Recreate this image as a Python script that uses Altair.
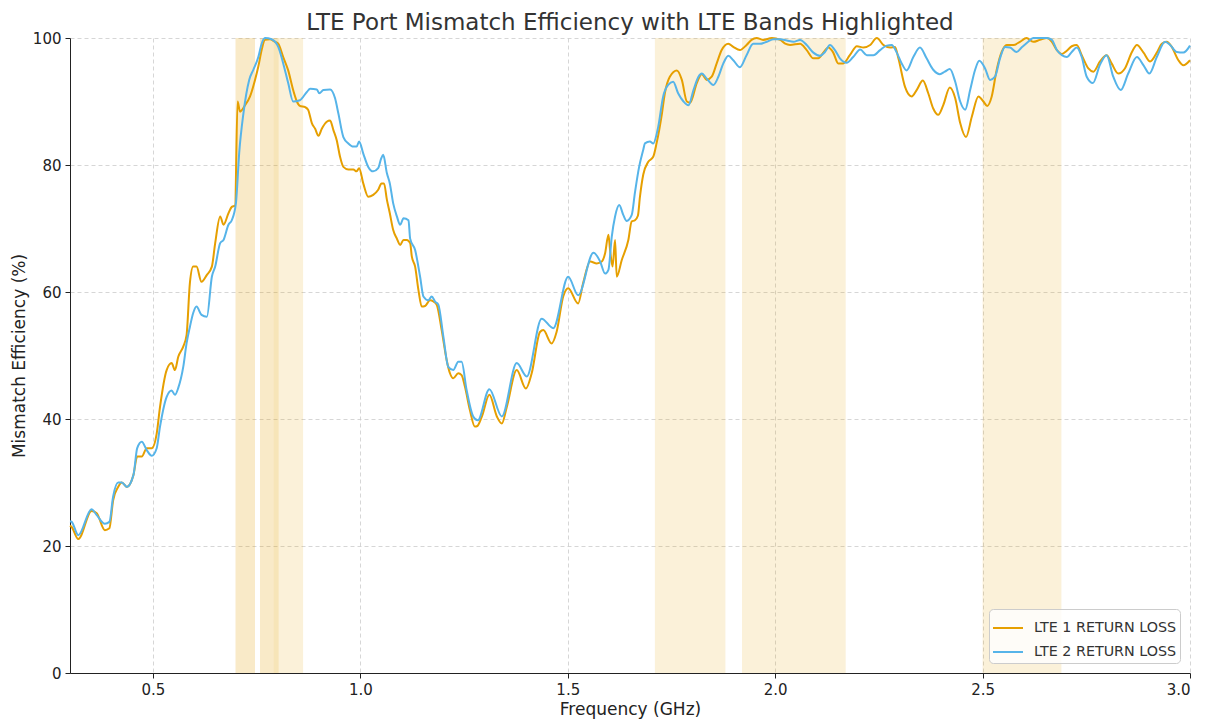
import altair as alt
import pandas as pd

# ---- data ----
freq_lte1 = [0.300, 0.304, 0.320, 0.352, 0.364, 0.384, 0.395, 0.404, 0.416, 0.425, 0.437, 0.453, 0.462, 0.473,
             0.485, 0.497, 0.509, 0.517, 0.533, 0.545, 0.553, 0.561, 0.573, 0.581, 0.589, 0.597, 0.605, 0.617,
             0.630, 0.642, 0.650, 0.662, 0.670, 0.682, 0.690, 0.698, 0.704, 0.710, 0.722, 0.734, 0.746, 0.754,
             0.762, 0.770, 0.782, 0.794, 0.802, 0.814, 0.826, 0.838, 0.847, 0.854, 0.867, 0.874, 0.883, 0.891,
             0.899, 0.907, 0.919, 0.927, 0.935, 0.943, 0.951, 0.959, 0.971, 0.983, 0.991, 0.997, 1.007, 1.019,
             1.031, 1.043, 1.051, 1.057, 1.064, 1.071, 1.079, 1.088, 1.096, 1.104, 1.112, 1.120, 1.124, 1.132,
             1.140, 1.148, 1.156, 1.168, 1.176, 1.184, 1.196, 1.208, 1.216, 1.224, 1.236, 1.244, 1.252, 1.264,
             1.276, 1.282, 1.293, 1.311, 1.329, 1.341, 1.353, 1.377, 1.399, 1.413, 1.433, 1.441, 1.461, 1.473,
             1.489, 1.501, 1.525, 1.537, 1.554, 1.570, 1.582, 1.590, 1.598, 1.602, 1.608, 1.614, 1.618, 1.630,
             1.646, 1.654, 1.662, 1.669, 1.674, 1.682, 1.694, 1.706, 1.714, 1.727, 1.734, 1.746, 1.763, 1.775,
             1.787, 1.795, 1.811, 1.823, 1.835, 1.847, 1.859, 1.871, 1.887, 1.899, 1.915, 1.931, 1.943, 1.955,
             1.971, 1.992, 2.012, 2.024, 2.036, 2.060, 2.076, 2.092, 2.104, 2.116, 2.128, 2.140, 2.152, 2.164,
             2.180, 2.197, 2.213, 2.229, 2.245, 2.261, 2.277, 2.289, 2.297, 2.313, 2.329, 2.341, 2.356, 2.369,
             2.381, 2.393, 2.405, 2.421, 2.434, 2.446, 2.460, 2.474, 2.490, 2.502, 2.511, 2.522, 2.534, 2.546,
             2.558, 2.574, 2.590, 2.606, 2.622, 2.638, 2.655, 2.667, 2.679, 2.691, 2.703, 2.715, 2.727, 2.739,
             2.755, 2.767, 2.783, 2.799, 2.811, 2.827, 2.843, 2.860, 2.872, 2.888, 2.904, 2.920, 2.932, 2.944,
             2.956, 2.972, 2.984, 3.000]
eff_lte1 = [23.2, 23.0, 21.1, 25.5, 25.2, 22.5, 22.8, 27.2, 29.3, 30.0, 29.3, 31.2, 34.1, 34.1,
            35.4, 35.4, 37.7, 41.9, 47.7, 48.8, 47.7, 49.8, 51.4, 53.2, 61.4, 64.0, 64.0, 61.6,
            62.7, 64.0, 67.7, 71.9, 70.6, 72.4, 73.4, 73.6, 90.0, 88.4, 89.4, 90.8, 93.4, 95.5,
            98.1, 99.7, 99.8, 99.4, 99.1, 97.0, 94.9, 91.8, 90.0, 89.3, 89.1, 88.7, 86.6, 85.7,
            84.6, 85.7, 86.8, 87.0, 85.5, 83.9, 81.3, 79.7, 79.3, 79.3, 79.0, 79.5, 77.1, 75.0,
            75.3, 76.1, 77.1, 77.1, 74.5, 72.4, 69.8, 68.4, 67.4, 68.2, 68.2, 67.7, 65.6, 64.0,
            60.3, 57.7, 57.8, 58.7, 58.5, 58.0, 54.0, 49.3, 47.2, 46.4, 47.2, 46.9, 45.1, 41.4,
            38.8, 38.9, 40.4, 43.8, 40.4, 39.3, 41.9, 47.7, 44.8, 47.2, 53.7, 54.0, 51.9, 53.7,
            59.3, 60.6, 58.2, 61.4, 64.8, 64.5, 64.8, 66.1, 69.0, 66.6, 64.0, 68.2, 62.4, 65.0,
            68.2, 71.1, 71.3, 72.0, 75.0, 78.5, 80.5, 81.3, 83.4, 88.1, 91.3, 93.9, 94.9, 93.4,
            90.0, 89.8, 92.9, 94.3, 93.4, 93.9, 96.0, 98.1, 99.1, 98.6, 98.1, 98.9, 99.7, 100.0,
            99.7, 100.0, 99.7, 99.1, 98.9, 99.1, 98.1, 96.8, 96.8, 97.7, 98.5, 97.7, 96.0, 96.0,
            97.3, 98.7, 98.5, 98.9, 100.0, 98.9, 98.5, 98.6, 96.8, 92.3, 90.8, 91.8, 93.3, 91.3,
            88.9, 87.9, 89.4, 92.2, 90.5, 86.6, 84.4, 87.6, 90.8, 90.0, 89.3, 90.8, 95.0, 97.8,
            98.9, 98.9, 99.4, 100.0, 99.4, 99.7, 100.0, 99.4, 98.1, 97.5, 98.0, 98.7, 98.9, 97.3,
            95.2, 94.7, 96.3, 97.3, 96.0, 94.4, 95.2, 97.8, 98.9, 97.7, 96.3, 97.7, 99.1, 99.4,
            98.6, 96.5, 95.7, 96.5]

freq_lte2 = [0.300, 0.304, 0.320, 0.352, 0.364, 0.384, 0.395, 0.404, 0.416, 0.425, 0.437, 0.453, 0.462, 0.473,
             0.485, 0.497, 0.509, 0.517, 0.533, 0.545, 0.553, 0.561, 0.573, 0.581, 0.589, 0.597, 0.605, 0.617,
             0.630, 0.642, 0.650, 0.662, 0.670, 0.682, 0.690, 0.700, 0.708, 0.718, 0.732, 0.742, 0.754, 0.762,
             0.770, 0.786, 0.802, 0.814, 0.826, 0.838, 0.854, 0.871, 0.879, 0.895, 0.901, 0.911, 0.927, 0.939,
             0.947, 0.959, 0.971, 0.983, 0.991, 0.997, 1.007, 1.019, 1.031, 1.043, 1.050, 1.055, 1.064, 1.071,
             1.079, 1.088, 1.096, 1.104, 1.116, 1.120, 1.132, 1.144, 1.152, 1.164, 1.172, 1.180, 1.188, 1.200,
             1.212, 1.224, 1.236, 1.244, 1.256, 1.272, 1.283, 1.311, 1.341, 1.377, 1.401, 1.437, 1.465, 1.501,
             1.525, 1.562, 1.578, 1.590, 1.598, 1.606, 1.614, 1.624, 1.634, 1.642, 1.654, 1.662, 1.672, 1.682,
             1.686, 1.698, 1.706, 1.718, 1.730, 1.742, 1.754, 1.766, 1.779, 1.791, 1.803, 1.815, 1.823, 1.835,
             1.851, 1.863, 1.875, 1.887, 1.899, 1.915, 1.931, 1.947, 1.963, 1.980, 1.996, 2.012, 2.028, 2.044,
             2.060, 2.076, 2.092, 2.108, 2.120, 2.132, 2.144, 2.156, 2.172, 2.188, 2.205, 2.221, 2.237, 2.253,
             2.269, 2.281, 2.293, 2.305, 2.317, 2.333, 2.349, 2.365, 2.381, 2.397, 2.409, 2.421, 2.434, 2.446,
             2.458, 2.470, 2.482, 2.492, 2.506, 2.518, 2.530, 2.542, 2.554, 2.566, 2.582, 2.594, 2.610, 2.622,
             2.655, 2.667, 2.679, 2.691, 2.703, 2.715, 2.727, 2.739, 2.751, 2.766, 2.783, 2.799, 2.815, 2.833,
             2.851, 2.872, 2.888, 2.902, 2.920, 2.940, 2.952, 2.968, 2.984, 3.000]
eff_lte2 = [23.9, 23.8, 21.7, 25.8, 24.9, 23.5, 23.8, 27.8, 30.0, 30.0, 29.3, 31.2, 35.4, 36.4,
            35.1, 34.2, 35.4, 38.8, 43.5, 44.5, 43.8, 44.9, 48.2, 51.9, 54.5, 56.7, 57.7, 56.4,
            56.1, 62.4, 64.0, 67.7, 68.2, 70.6, 71.3, 74.0, 82.0, 88.1, 93.4, 95.0, 97.0, 99.1,
            100.0, 99.8, 98.6, 96.0, 92.9, 90.0, 90.2, 91.5, 92.0, 91.9, 91.3, 91.8, 91.9, 90.5,
            88.1, 84.4, 83.4, 82.9, 82.9, 83.7, 81.8, 79.7, 79.0, 79.5, 81.0, 81.6, 78.7, 77.1,
            74.0, 71.9, 70.6, 71.6, 71.3, 68.4, 66.6, 62.4, 59.3, 58.7, 59.3, 58.5, 58.0, 53.0,
            48.2, 47.7, 49.0, 49.0, 44.6, 40.4, 39.8, 44.7, 40.4, 48.8, 46.7, 55.8, 54.3, 62.4,
            59.5, 66.2, 64.8, 62.9, 63.5, 68.7, 71.9, 73.7, 72.1, 71.2, 72.1, 75.7, 79.7, 82.4,
            83.4, 83.7, 83.4, 86.0, 90.8, 92.6, 93.1, 91.3, 90.0, 89.4, 91.8, 93.9, 94.4, 93.6,
            92.6, 93.9, 96.0, 97.2, 96.5, 95.4, 97.3, 99.1, 99.1, 99.4, 99.8, 99.8, 99.6, 99.4,
            99.7, 98.9, 97.7, 97.2, 97.8, 98.9, 98.1, 96.8, 96.1, 97.0, 98.2, 97.3, 97.3, 98.1,
            98.8, 98.9, 97.7, 96.0, 94.9, 97.0, 98.5, 96.8, 95.0, 94.3, 94.7, 95.1, 93.1, 90.0,
            88.7, 91.8, 95.0, 96.4, 95.2, 93.4, 93.9, 96.8, 98.6, 98.5, 97.8, 98.5, 99.4, 100.0,
            100.0, 99.7, 98.1, 97.3, 97.0, 97.8, 98.5, 97.0, 93.9, 92.9, 95.8, 97.3, 93.9, 91.8,
            94.4, 97.0, 95.7, 94.4, 97.0, 99.4, 98.9, 97.8, 97.7, 98.8]

# highlighted LTE bands (GHz)
band_start = [0.699, 0.758, 0.791, 1.710, 1.920, 2.500]
band_end = [0.746, 0.803, 0.862, 1.880, 2.170, 2.690]
# narrower sub-bands that overlap the low bands (shaded a little deeper)
subband_start = [0.699, 0.758]
subband_end = [0.746, 0.791]

series_names = ["LTE 1 RETURN LOSS", "LTE 2 RETURN LOSS"]
series_colors = ["#E69F00", "#56B4E9"]

x_ticks = [0.5, 1.0, 1.5, 2.0, 2.5, 3.0]
y_ticks = [0, 20, 40, 60, 80, 100]

# ---- tables ----
lines_df = pd.concat([
    pd.DataFrame({"freq": freq_lte1, "eff": eff_lte1, "series": series_names[0], "order": 0}),
    pd.DataFrame({"freq": freq_lte2, "eff": eff_lte2, "series": series_names[1], "order": 1}),
], ignore_index=True)
bands_df = pd.DataFrame({"start": band_start, "end": band_end})
subbands_df = pd.DataFrame({"start": subband_start, "end": subband_end})

FONT = "DejaVu Sans"

xscale = alt.Scale(domain=[0.3, 3.0], nice=False, zero=False)
yscale = alt.Scale(domain=[0, 100], nice=False)

bands = alt.Chart(bands_df).mark_rect(color="#E69F00", opacity=0.15).encode(
    x=alt.X("start:Q", scale=xscale),
    x2="end:Q",
)
subbands = alt.Chart(subbands_df).mark_rect(color="#E69F00", opacity=0.08).encode(
    x=alt.X("start:Q", scale=xscale),
    x2="end:Q",
)

lines = alt.Chart(lines_df).mark_line(strokeWidth=2, interpolate="monotone").encode(
    x=alt.X("freq:Q", scale=xscale,
            axis=alt.Axis(values=x_ticks, format=".1f", title="Frequency (GHz)")),
    y=alt.Y("eff:Q", scale=yscale,
            axis=alt.Axis(values=y_ticks, title="Mismatch Efficiency (%)")),
    color=alt.Color("series:N",
                    scale=alt.Scale(domain=series_names, range=series_colors),
                    legend=alt.Legend(title=None, orient="bottom-right", offset=10,
                                      symbolType="stroke", symbolSize=900, symbolStrokeWidth=2,
                                      labelFontSize=14.3, labelFont=FONT, labelColor="#333333",
                                      fillColor="rgba(255,255,255,0.8)", strokeColor="#cccccc",
                                      cornerRadius=4, padding=3, rowPadding=0, labelOffset=10)),
    order="order:Q",
)

chart = alt.layer(bands, subbands, lines).properties(
    width=1120,
    height=635,
    title=alt.TitleParams("LTE Port Mismatch Efficiency with LTE Bands Highlighted",
                          fontSize=23, font=FONT, color="#333333", fontWeight="normal",
                          anchor="middle", offset=-4),
    autosize=alt.AutoSizeParams(type="none"),
    padding={"left": 62, "top": 30, "right": 13, "bottom": 60},
).configure_view(stroke=None).configure_axis(
    labelFont=FONT, titleFont=FONT, labelFontSize=15, titleFontSize=17,
    labelColor="#222222", titleColor="#222222", titleFontWeight="normal",
    gridColor="#cccccc", gridDash=[4, 3], gridWidth=0.8,
    domainColor="#222222", tickColor="#222222", tickSize=5, domainWidth=1,
    labelPadding=4,
)

chart.save("out.html", embed_options={"renderer": "svg", "actions": False})
